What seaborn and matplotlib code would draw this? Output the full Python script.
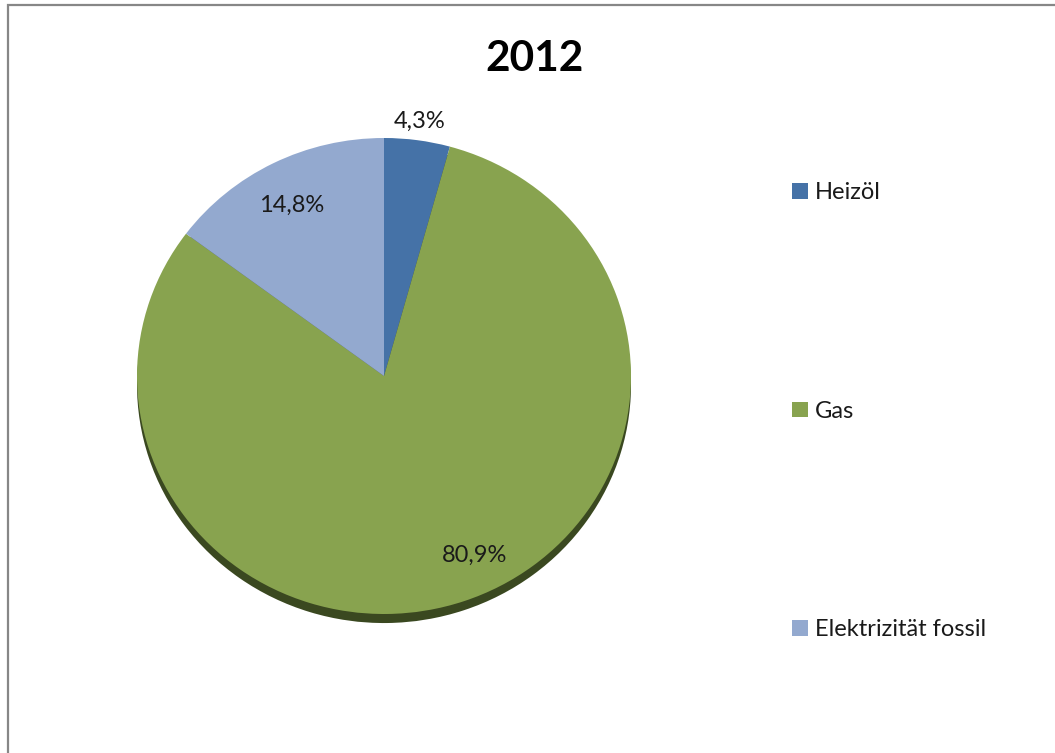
import numpy as np
import matplotlib
matplotlib.use("Agg")
import matplotlib.pyplot as plt
from matplotlib.patches import Rectangle
import seaborn as sns

# ---- data ----
title = "2012"
categories = ["Heizöl", "Gas", "Elektrizität fossil"]
values = [4.3, 80.9, 14.8]
value_labels = ["4,3%", "80,9%", "14,8%"]

# ---- style ----
sns.set_theme(style="white")
plt.rcParams["font.family"] = ["Lato", "DejaVu Sans"]
colors = sns.color_palette(["#4572A7", "#88A34F", "#93A9CF"])
shadow_colors = ["#243B57", "#3A4820", "#4C5A73"]
label_radius = [1.08, 0.84, 0.81]
label_angle_shift = [0.0, 7.0, 1.0]

W, H = 1055, 753
fig = plt.figure(figsize=(W / 100, H / 100), dpi=100)
fig.patch.set_facecolor("white")

cx, cy = 384, 376          # pie centre (px)
rx, ry = 247, 238          # pie radii (px)
pad = 1.1
ax = fig.add_axes([(cx - rx * pad) / W, (H - cy - ry * pad) / H,
                   2 * rx * pad / W, 2 * ry * pad / H])

# shadow / depth
ax.pie(values, colors=shadow_colors, startangle=90, counterclock=False,
       radius=1.0, center=(0, -0.038), wedgeprops=dict(linewidth=0))
wedges, _ = ax.pie(values, colors=colors, startangle=90, counterclock=False,
                   radius=1.0, center=(0, 0), wedgeprops=dict(linewidth=0))
ax.set_aspect("auto")
ax.set_xlim(-pad, pad)
ax.set_ylim(-pad, pad)
ax.axis("off")

for w, lab, r, sh in zip(wedges, value_labels, label_radius, label_angle_shift):
    ang = np.deg2rad((w.theta1 + w.theta2) / 2 + sh)
    ax.text(r * np.cos(ang), r * np.sin(ang), lab, ha="center", va="center",
            fontsize=17, color="#1a1a1a")

fig.text(535 / W, 1 - 59 / H, title, ha="center", va="center",
         fontsize=30.5, fontweight="bold", color="black")

leg = fig.legend(wedges, categories, loc="upper left",
                 bbox_to_anchor=(783 / W, 1 - 173 / H),
                 frameon=False, fontsize=17, labelspacing=8.36,
                 handlelength=0.64, handleheight=0.64, handletextpad=0.3,
                 borderaxespad=0)
for t in leg.get_texts():
    t.set_color("#1a1a1a")

fig.patches.append(Rectangle((8.3 / W, -0.1), 1.2, 1 - 5 / H + 0.1,
                             transform=fig.transFigure, fill=False,
                             edgecolor="#878787", linewidth=1.6, zorder=10))

fig.savefig("out.png", dpi=100)
